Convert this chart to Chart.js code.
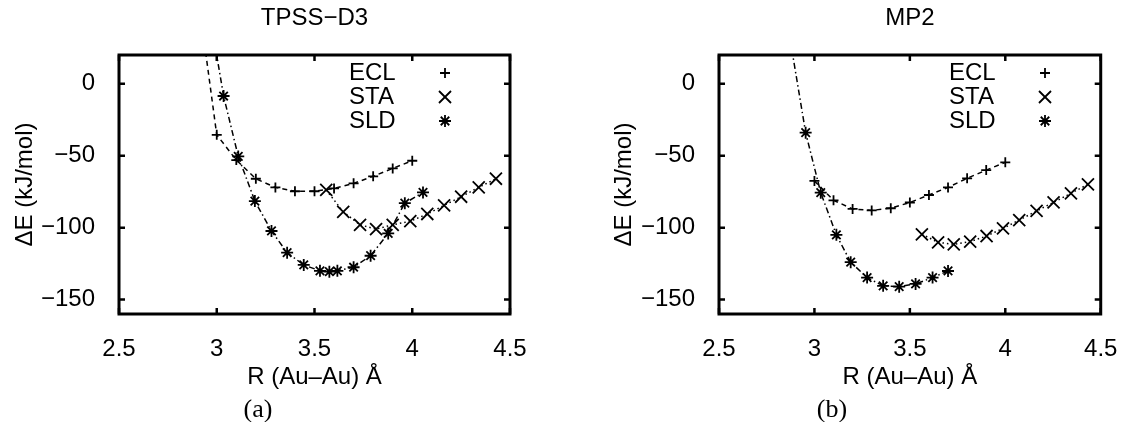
<!DOCTYPE html>
<html>
<head>
<meta charset="utf-8">
<script src="https://cdn.jsdelivr.net/npm/chart.js@4.4.1/dist/chart.umd.min.js"></script>
<style>
  html, body { margin: 0; padding: 0; background: #fff; overflow: hidden; }
  body { width: 1130px; height: 422px; position: relative; }
  canvas { position: absolute; top: 0; }
  .cap { position: absolute; width: 60px; text-align: center; font-family: "Liberation Serif", "Times New Roman", serif; font-size: 26px; line-height: 30px; top: 394px; color: #000; }
</style>
</head>
<body>
<canvas id="c1" width="565" height="422" style="left:0px"></canvas>
<canvas id="c2" width="565" height="422" style="left:565px"></canvas>
<div class="cap" style="left:228px">(a)</div>
<div class="cap" style="left:802px">(b)</div>
<script>
// ---------- data ----------
const seriesNames = ['ECL', 'STA', 'SLD'];
const xTicks = [2.5, 3, 3.5, 4, 4.5];
const yTicks = [0, -50, -100, -150];

// TPSS-D3
const tpssEclR = [2.90, 3.00, 3.10, 3.20, 3.30, 3.40, 3.50, 3.60, 3.70, 3.80, 3.90, 4.00];
const tpssEclE = [65.5, -35.5, -53, -66, -72, -74.7, -74.7, -72.7, -69.2, -64.3, -58.8, -53.5];
const tpssStaR = [3.56, 3.647, 3.733, 3.815, 3.90, 3.99, 4.077, 4.163, 4.25, 4.34, 4.428];
const tpssStaE = [-73.8, -89, -98, -101, -98, -95.5, -90.5, -84.5, -78.5, -72, -66];
const tpssSldR = [2.95, 3.035, 3.11, 3.195, 3.28, 3.36, 3.445, 3.528, 3.576, 3.617, 3.70, 3.787, 3.877, 3.962, 4.055];
const tpssSldE = [60, -8.5, -50.5, -81.5, -102.3, -117.4, -125.9, -130, -130.6, -130, -127.5, -119.5, -104, -83, -75.5];

// MP2
const mp2EclR = [3.00, 3.10, 3.20, 3.30, 3.40, 3.50, 3.60, 3.70, 3.80, 3.90, 4.00];
const mp2EclE = [-67.5, -81, -87, -88, -86.5, -82.5, -77.3, -72, -65.7, -60, -54.6];
const mp2StaR = [3.563, 3.648, 3.73, 3.816, 3.902, 3.988, 4.073, 4.164, 4.253, 4.344, 4.433];
const mp2StaE = [-104.6, -110.2, -111.6, -109.7, -105.8, -100.5, -94.7, -88.4, -82.4, -76.1, -69.9];
const mp2SldR = [2.87, 2.954, 3.033, 3.115, 3.19, 3.276, 3.36, 3.444, 3.53, 3.619, 3.70];
const mp2SldE = [33, -34, -75.7, -105, -124, -134.7, -140.4, -141, -139.1, -134.7, -130.1];

// ---------- helpers ----------
const FONT = '"Liberation Sans", Arial, Helvetica, sans-serif';
const FS = 24;
const pts = (xs, ys) => xs.map((x, i) => ({ x: x, y: ys[i] }));
const minus = v => (v < 0 ? '\u2212' + Math.abs(v) : String(v));

const styles = [
  { pointStyle: 'cross', pointRadius: 5, borderDash: [5, 4] },
  { pointStyle: 'crossRot', pointRadius: 8.5, borderDash: [1.5, 3] },
  { pointStyle: 'star', pointRadius: 6, borderDash: [6, 3, 1.5, 3] }
];

function mkDataset(i, xs, ys) {
  return Object.assign({
    label: seriesNames[i],
    data: pts(xs, ys),
    showLine: true,
    borderColor: '#000',
    borderWidth: 1.5,
    pointBorderColor: '#000',
    pointBackgroundColor: 'rgba(0,0,0,0)',
    pointBorderWidth: 1.8,
    pointHoverRadius: 0,
    tension: 0
  }, styles[i]);
}

function drawSym(ctx, style, r, x, y) {
  ctx.beginPath();
  if (style === 'cross' || style === 'star') {
    ctx.moveTo(x - r, y); ctx.lineTo(x + r, y);
    ctx.moveTo(x, y - r); ctx.lineTo(x, y + r);
  }
  if (style === 'crossRot' || style === 'star') {
    const d = r * Math.SQRT1_2;
    ctx.moveTo(x - d, y - d); ctx.lineTo(x + d, y + d);
    ctx.moveTo(x - d, y + d); ctx.lineTo(x + d, y - d);
  }
  ctx.stroke();
}

const framePlugin = {
  id: 'frame',
  afterDraw(chart) {
    const { ctx, chartArea: a, scales } = chart;
    ctx.save();
    ctx.strokeStyle = '#000';
    // inward ticks on all four sides
    ctx.lineWidth = 2.5;
    ctx.beginPath();
    xTicks.forEach(v => {
      const px = scales.x.getPixelForValue(v);
      ctx.moveTo(px, a.bottom); ctx.lineTo(px, a.bottom - 6);
      ctx.moveTo(px, a.top); ctx.lineTo(px, a.top + 6);
    });
    yTicks.forEach(v => {
      const py = scales.y.getPixelForValue(v);
      ctx.moveTo(a.left, py); ctx.lineTo(a.left + 6, py);
      ctx.moveTo(a.right, py); ctx.lineTo(a.right - 6, py);
    });
    ctx.stroke();
    ctx.lineWidth = 3;
    ctx.strokeRect(a.left, a.top, a.right - a.left, a.bottom - a.top);
    // key
    ctx.fillStyle = '#000';
    ctx.font = FS + 'px ' + FONT;
    ctx.textAlign = 'left';
    ctx.textBaseline = 'middle';
    chart.data.datasets.forEach((ds, i) => {
      const y = a.top + 18 + i * 24;
      ctx.fillText(ds.label, a.left + 230, y);
      ctx.lineWidth = 1.8;
      drawSym(ctx, ds.pointStyle, ds.pointRadius, a.left + 326, y);
    });
    ctx.restore();
  }
};

function mkChart(id, title, sets, areaLeft, padRight, yTitlePad) {
  return new Chart(document.getElementById(id), {
    type: 'scatter',
    data: { datasets: sets },
    plugins: [framePlugin],
    options: {
      responsive: false,
      animation: false,
      events: [],
      layout: { padding: { left: 0, right: padRight, top: 0, bottom: 0 } },
      plugins: {
        legend: { display: false },
        tooltip: { enabled: false },
        title: {
          display: true, text: title, color: '#000', fullSize: false,
          font: { family: FONT, size: FS, weight: 'normal', lineHeight: 1.2 },
          padding: { top: 3.6, bottom: 22.6 }
        }
      },
      scales: {
        x: {
          type: 'linear', min: 2.5, max: 4.5,
          grid: { display: false }, border: { display: false },
          afterBuildTicks: s => { s.ticks = xTicks.map(v => ({ value: v })); },
          afterFit: s => { s.height = 108; },
          ticks: { color: '#000', padding: 12.6, maxRotation: 0, autoSkip: false,
                   font: { family: FONT, size: FS }, callback: v => String(v) },
          title: { display: true, text: 'R (Au\u2013Au) \u00C5', color: '#000',
                   font: { family: FONT, size: FS }, padding: { top: 0, bottom: 30.6 } }
        },
        y: {
          type: 'linear', min: -160, max: 20,
          grid: { display: false }, border: { display: false },
          afterBuildTicks: s => { s.ticks = yTicks.map(v => ({ value: v })); },
          afterFit: s => { s.width = areaLeft; },
          ticks: { color: '#000', padding: 16, autoSkip: false,
                   font: { family: FONT, size: FS }, callback: v => minus(v) },
          title: { display: true, text: '\u0394E (kJ/mol)', color: '#000',
                   font: { family: FONT, size: FS }, padding: { top: yTitlePad, bottom: 0 } }
        }
      }
    }
  });
}

mkChart('c1', 'TPSS\u2212D3', [
  mkDataset(0, tpssEclR, tpssEclE),
  mkDataset(1, tpssStaR, tpssStaE),
  mkDataset(2, tpssSldR, tpssSldE)
], 119, 55, 10.6);

mkChart('c2', 'MP2', [
  mkDataset(0, mp2EclR, mp2EclE),
  mkDataset(1, mp2StaR, mp2StaE),
  mkDataset(2, mp2SldR, mp2SldE)
], 154, 22, 44.6);
</script>
</body>
</html>
